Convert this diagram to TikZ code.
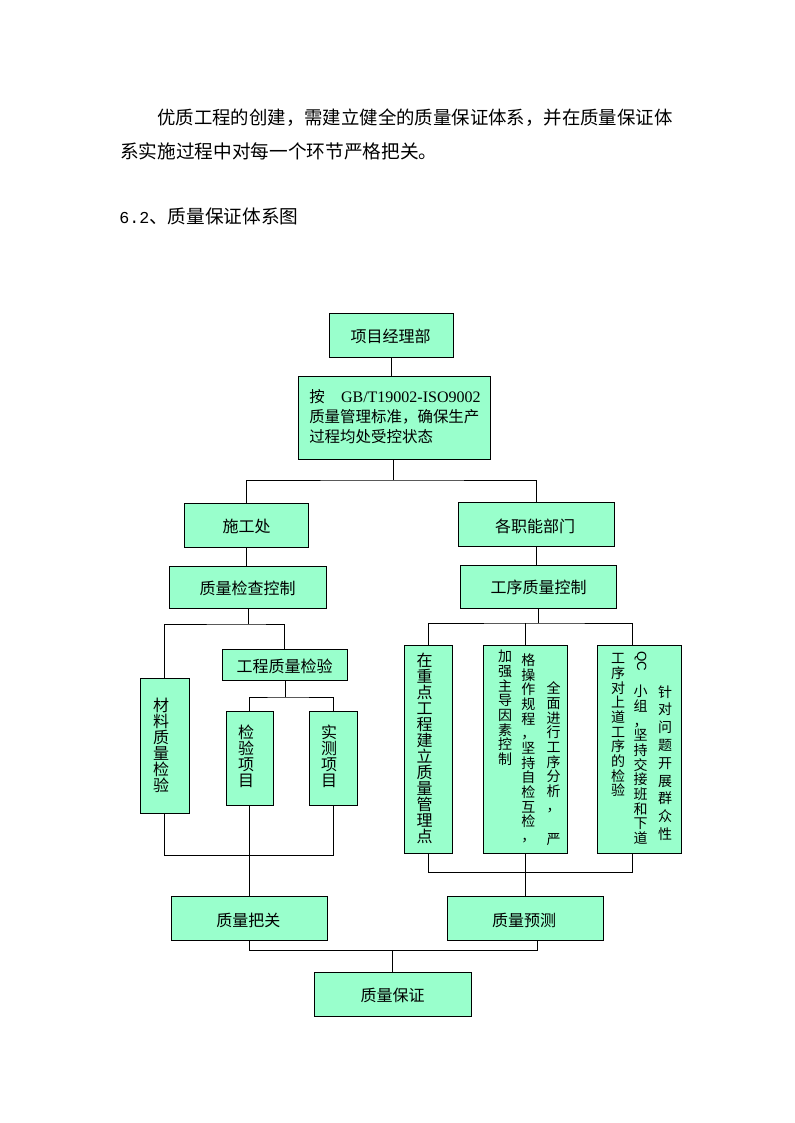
\documentclass[tikz,border=0pt]{standalone}
\usepackage{fontspec}
\setmainfont{Liberation Serif}
\newfontfamily\cjk{Noto Sans CJK SC}
\newfontfamily\lat{Liberation Serif}
\newfontfamily\latsans{Liberation Sans}
\newfontfamily\latmono{Liberation Mono}
\usetikzlibrary{fit}
\definecolor{boxgreen}{RGB}{153,255,204}
\tikzset{
  box/.style={draw=black, line width=0.75pt, fill=boxgreen, inner sep=0pt},
  lbl/.style={inner sep=0pt, anchor=base, font={\fontsize{12}{12}\cjk}},
  vcol/.style={inner sep=0pt, anchor=north, align=center},
  vbig/.style={vcol, font={\fontsize{12}{12}\cjk\lineskiplimit=-100pt}},
  vsmall/.style={vcol, font={\fontsize{10.5}{11}\cjk\lineskiplimit=-100pt}},
  ln/.style={draw=black, line width=0.75pt},
  para/.style={inner sep=0pt, anchor=west}
}
\begin{document}
\begin{tikzpicture}[x=0.75pt,y=-0.75pt]
\fill[white] (0,0) rectangle (794,1123);
\useasboundingbox (0,0) rectangle (794,1123);

% paragraph text
\node[para, font={\fontsize{13.8}{14}\cjk}] (p1) at (157,117.5) {优质工程的创建，需建立健全的质量保证体系，并在质量保证体};
\node[para, font={\fontsize{14}{14}\cjk}] (p2) at (120,151) {系实施过程中对每一个环节严格把关。};
\node[para, font={\fontsize{14}{14}\cjk}] (p3) at (119,216) {{\latmono\fontsize{12.5}{14}\selectfont 6.2}、质量保证体系图};

% boxes
\node[box, fit={(329,313) (453,357)}] (pm) {};
\node[box, fit={(298,376) (490,459)}] (std) {};
\node[box, fit={(184,503) (308,547)}] (sg) {};
\node[box, fit={(458,502) (614,546)}] (zn) {};
\node[box, fit={(169,566) (326,608)}] (zl) {};
\node[box, fit={(460,565) (616,608)}] (gx) {};
\node[box, fit={(222,649) (347,680)}] (gc) {};
\node[box, fit={(140,678) (189,813)}] (cl) {};
\node[box, fit={(226,711) (273,805)}] (jy) {};
\node[box, fit={(309,711) (357,805)}] (sc) {};
\node[box, fit={(404,645) (452,853)}] (r1) {};
\node[box, fit={(483,645) (567,853)}] (r2) {};
\node[box, fit={(597,645) (681,853)}] (r3) {};
\node[box, fit={(171,896) (327,940)}] (bg) {};
\node[box, fit={(447,896) (603,940)}] (yc) {};
\node[box, fit={(314,972) (471,1016)}] (bz) {};

% horizontal labels
\node[lbl] (pmt) at (390.5,342.4) {项目经理部};
\node[inner sep=0pt, anchor=north west, align=left, text width=128.5pt,
      font={\fontsize{11.6}{15}\cjk}] (stdtext) at (309,389)
  {按\hfill{\lat\fontsize{12}{15}\selectfont GB/T19002-ISO9002}\\质量管理标准，确保生产\\过程均处受控状态};
\node[lbl] (sgt) at (246.7,532.7) {施工处};
\node[lbl] (znt) at (535,532) {各职能部门};
\node[lbl] (zlt) at (247.5,594) {质量检查控制};
\node[lbl] (gxt) at (538.5,593) {工序质量控制};
\node[lbl] (gct) at (284.5,672) {工程质量检验};
\node[lbl] (bgt) at (248.3,926.4) {质量把关};
\node[lbl] (yct) at (524.2,926.4) {质量预测};
\node[lbl] (bzt) at (392.7,1001.8) {质量保证};

% vertical labels
\node[vbig] (clt) at (161,698) {材\\料\\质\\量\\检\\验};
\node[vbig] (jyt) at (246,725) {检\\验\\项\\目};
\node[vbig] (sct) at (329,725) {实\\测\\项\\目};
\node[vbig] (r1t) at (424.5,653) {在\\重\\点\\工\\程\\建\\立\\质\\量\\管\\理\\点};

% vertical text columns in r2
\node[vsmall] (r2a) at (553.5,681.7) {全\\面\\进\\行\\工\\序\\分\\析\\，\\[14pt]严};
\node[vsmall] (r2b) at (528.3,653.3) {格\\操\\作\\规\\程\\，\\坚\\持\\自\\检\\互\\检\\，};
\node[vsmall] (r2c) at (505,650) {加\\强\\主\\导\\因\\素\\控\\制};
% vertical text columns in r3
\node[vcol, font={\fontsize{10.5}{13.35}\cjk\lineskiplimit=-100pt}] (r3a) at (665,685) {针\\对\\问\\题\\开\\展\\群\\众\\性};
\node[inner sep=0pt, rotate=-90, font={\fontsize{10}{11}\latsans}] (qc) at (640.5,661) {QC};
\node[vsmall] (r3b) at (640.5,685) {小\\组\\，\\坚\\持\\交\\接\\班\\和\\下\\道};
\node[vsmall] (r3c) at (618,653.3) {工\\序\\对\\上\\道\\工\\序\\的\\检\\验};

% connectors
\coordinate (j1) at (393,480);
\coordinate (j2) at (248,624);
\coordinate (j3) at (285,697);
\coordinate (j4) at (249,855);
\coordinate (j5) at (538,623);
\coordinate (j6) at (524,872);
\coordinate (j7) at (392,950);

\draw[ln] (pm.south) -- (pm.south |- std.north);
\draw[ln] (std.south -| j1) -- (j1);
\draw[ln] (sg.north) |- (j1) -| (zn.north);
\draw[ln] (sg.south) -- (sg.south |- zl.north);
\draw[ln] (zn.south) -- (zn.south |- gx.north);
\draw[ln] (zl.south -| j2) -- (j2);
\draw[ln] (cl.north) |- (j2) -| (gc.north);
\draw[ln] (gc.south -| j3) -- (j3);
\draw[ln] (jy.north) |- (j3) -| (sc.north);
\draw[ln] (cl.south) |- (j4) -| (sc.south);
\draw[ln] (jy.south) -- (jy.south |- bg.north);
\draw[ln] (gx.south -| j5) -- (j5);
\draw[ln] (r1.north) |- (j5) -| ([xshift=-5.25pt]r3.north);
\draw[ln] (r2.north) -- (r2.north |- j5);
\draw[ln] (r1.south) |- (j6) -| ([xshift=-5.25pt]r3.south);
\draw[ln] (r2.south) -- (r2.south |- yc.north);
\draw[ln] (bg.south) |- (j7) -| ([xshift=9pt]yc.south);
\draw[ln] (j7) -- (j7 |- bz.north);
\end{tikzpicture}
\end{document}
